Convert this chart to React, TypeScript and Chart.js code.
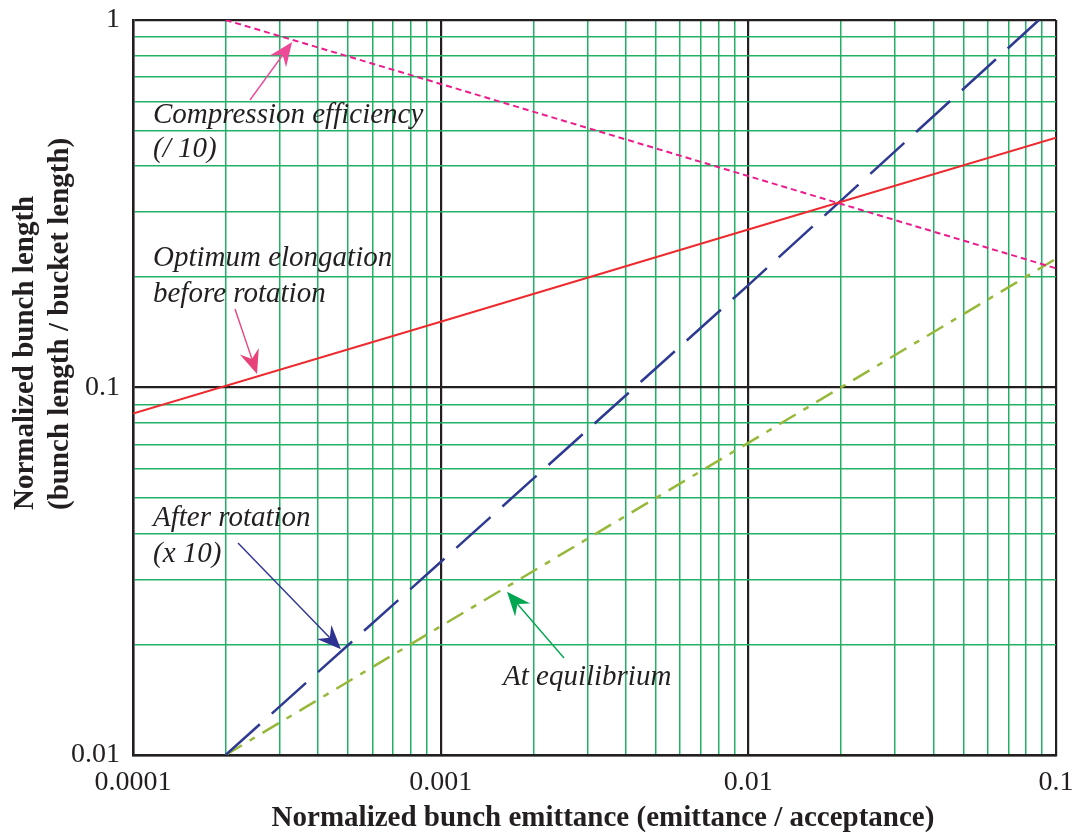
import { useEffect, useRef } from 'react';
import { Chart, registerables } from 'chart.js';

Chart.register(...registerables);

// ---- axis structure ----
const X_DECADES = [0.0001, 0.001, 0.01, 0.1];
const X_TICK_LABELS = ['0.0001', '0.001', '0.01', '0.1'];
const Y_DECADES = [0.01, 0.1, 1];
const Y_TICK_LABELS = ['0.01', '0.1', '1'];
const GRID_STEPS = [1, 2, 3, 4, 5, 6, 7, 8, 9];

const X_TITLE = 'Normalized bunch emittance (emittance / acceptance)';
const Y_TITLE = ['Normalized bunch length', '(bunch length / bucket length)'];

// ---- series ----
const ELONGATION_X = [0.0001, 0.001, 0.01, 0.1];
const ELONGATION_Y = [0.085, 0.151, 0.269, 0.478];

const COMPRESSION_X = [0.0002, 0.001, 0.01, 0.1];
const COMPRESSION_Y = [1.0, 0.67, 0.376, 0.211];

const ROTATION_X = [0.0002, 0.001, 0.01, 0.088];
const ROTATION_Y = [0.01, 0.0335, 0.19, 1.0];

const EQUILIBRIUM_X = [0.0002, 0.001, 0.01, 0.1];
const EQUILIBRIUM_Y = [0.01, 0.0224, 0.0707, 0.224];

// ---- annotations ----
const NOTE_TEXTS = [
  ['Compression efficiency', '(/ 10)'],
  ['Optimum elongation', 'before rotation'],
  ['After rotation', '(x 10)'],
  ['At equilibrium'],
];
// arrow tips in data units (they point at the curves)
const ARROW_TIP_X = [0.000329, 0.000253, 0.000474, 0.001643];
const ARROW_TIP_Y = [0.871, 0.1088, 0.0194, 0.0278];

const SERIF = '"Liberation Serif", "Times New Roman", serif';
const INK = '#231f20';
const GRID_GREEN = '#22b164';
const MAJOR = '#231f20';

const NOTE_LAYOUT = [
  { x: 153, y: [123, 157], tail: [250, 100], color: '#ec4a97' },
  { x: 153, y: [266, 302], tail: [235, 309], color: '#e8427a' },
  { x: 153, y: [526, 562], tail: [238, 543], color: '#2e3192' },
  { x: 503, y: [685], tail: [564, 658], color: '#00a651' },
];

function gridValues(decades: number[]) {
  const out: number[] = [];
  for (let i = 0; i < decades.length - 1; i++) {
    for (const s of GRID_STEPS) out.push(Number((decades[i] * s).toPrecision(6)));
  }
  out.push(decades[decades.length - 1]);
  return out;
}
function decadeIndex(decades: number[], v: number) {
  return decades.findIndex((d) => Math.abs(v - d) <= d * 1e-6);
}
function pts(xs: number[], ys: number[]) {
  return xs.map((x, i) => ({ x, y: ys[i] }));
}

function drawArrow(ctx: CanvasRenderingContext2D, x0: number, y0: number, x1: number, y1: number, color: string) {
  const dx = x1 - x0;
  const dy = y1 - y0;
  const len = Math.hypot(dx, dy);
  const ux = dx / len;
  const uy = dy / len;
  const nx = -uy;
  const ny = ux;
  const L = 24;
  const W = 10;
  const N = 8;
  ctx.save();
  ctx.strokeStyle = color;
  ctx.lineWidth = 1.4;
  ctx.beginPath();
  ctx.moveTo(x0, y0);
  ctx.lineTo(x1 - ux * (L - N), y1 - uy * (L - N));
  ctx.stroke();
  ctx.fillStyle = color;
  ctx.beginPath();
  ctx.moveTo(x1, y1);
  ctx.lineTo(x1 - ux * L + nx * W, y1 - uy * L + ny * W);
  ctx.lineTo(x1 - ux * (L - N), y1 - uy * (L - N));
  ctx.lineTo(x1 - ux * L - nx * W, y1 - uy * L - ny * W);
  ctx.closePath();
  ctx.fill();
  ctx.restore();
}

const decoPlugin = {
  id: 'deco',
  afterDatasetsDraw(chart: any) {
    const ctx: CanvasRenderingContext2D = chart.ctx;
    const xs = chart.scales.x;
    const ys = chart.scales.y;
    ctx.save();
    // annotations
    ctx.font = `italic 29px ${SERIF}`;
    ctx.fillStyle = INK;
    ctx.textAlign = 'left';
    ctx.textBaseline = 'alphabetic';
    NOTE_TEXTS.forEach((lines, i) => {
      const lay = NOTE_LAYOUT[i];
      lines.forEach((t, j) => ctx.fillText(t, lay.x, lay.y[j]));
      const tx = xs.getPixelForValue(ARROW_TIP_X[i]);
      const ty = ys.getPixelForValue(ARROW_TIP_Y[i]);
      drawArrow(ctx, lay.tail[0], lay.tail[1], tx, ty, lay.color);
    });
    // axis titles
    ctx.fillStyle = INK;
    ctx.font = `bold 29px ${SERIF}`;
    ctx.textAlign = 'center';
    ctx.fillText(X_TITLE, 603, 826);
    ctx.textAlign = 'left';
    const bases = [33, 68];
    Y_TITLE.forEach((t, j) => {
      ctx.save();
      ctx.translate(bases[j], 510);
      ctx.rotate(-Math.PI / 2);
      ctx.fillText(t, 0, 0);
      ctx.restore();
    });
    ctx.restore();
  },
};

export default function App() {
  const ref = useRef<HTMLCanvasElement | null>(null);
  useEffect(() => {
    if (!ref.current) return;
    const xGrid = gridValues(X_DECADES);
    const yGrid = gridValues(Y_DECADES);
    const gridColor = (decades: number[]) => (c: any) =>
      c.tick && decadeIndex(decades, c.tick.value) >= 0 ? MAJOR : GRID_GREEN;
    const gridWidth = (decades: number[]) => (c: any) =>
      c.tick && decadeIndex(decades, c.tick.value) >= 0 ? 2.2 : 1.5;
    const chart = new Chart(ref.current, {
      type: 'line',
      data: {
        datasets: [
          {
            label: 'Optimum elongation before rotation',
            data: pts(ELONGATION_X, ELONGATION_Y),
            borderColor: '#ed2b2f',
            borderWidth: 2,
          },
          {
            label: 'Compression efficiency (/ 10)',
            data: pts(COMPRESSION_X, COMPRESSION_Y),
            borderColor: '#ec1c8c',
            borderWidth: 2,
            borderDash: [6, 4],
          },
          {
            label: 'After rotation (x 10)',
            data: pts(ROTATION_X, ROTATION_Y),
            borderColor: '#2e3a92',
            borderWidth: 2.5,
            borderDash: [46, 16],
          },
          {
            label: 'At equilibrium',
            data: pts(EQUILIBRIUM_X, EQUILIBRIUM_Y),
            borderColor: '#97b83a',
            borderWidth: 2.5,
            borderDash: [19, 9, 6, 9],
          },
        ] as any,
      },
      options: {
        animation: false,
        responsive: false,
        elements: { point: { radius: 0 }, line: { tension: 0 } },
        layout: { padding: { top: 20, right: 28, left: 0, bottom: 0 } },
        plugins: { legend: { display: false }, tooltip: { enabled: false } },
        scales: {
          x: {
            type: 'logarithmic',
            min: X_DECADES[0],
            max: X_DECADES[X_DECADES.length - 1],
            afterBuildTicks: (s: any) => {
              s.ticks = xGrid.map((v) => ({ value: v }));
            },
            afterFit: (s: any) => {
              s.height = 79;
              s.paddingLeft = 0;
              s.paddingRight = 0;
            },
            grid: { color: gridColor(X_DECADES), lineWidth: gridWidth(X_DECADES), drawTicks: false },
            border: { display: true, color: MAJOR, width: 2.5 },
            ticks: {
              autoSkip: false,
              maxRotation: 0,
              minRotation: 0,
              padding: 11,
              color: INK,
              font: { family: SERIF, size: 28 },
              callback: (v: any) => {
                const i = decadeIndex(X_DECADES, Number(v));
                return i >= 0 ? X_TICK_LABELS[i] : '';
              },
            },
          },
          y: {
            type: 'logarithmic',
            min: Y_DECADES[0],
            max: Y_DECADES[Y_DECADES.length - 1],
            afterBuildTicks: (s: any) => {
              s.ticks = yGrid.map((v) => ({ value: v }));
            },
            afterFit: (s: any) => {
              s.width = 133;
              s.paddingTop = 0;
              s.paddingBottom = 0;
            },
            grid: { color: gridColor(Y_DECADES), lineWidth: gridWidth(Y_DECADES), drawTicks: false },
            border: { display: true, color: MAJOR, width: 2.5 },
            ticks: {
              autoSkip: false,
              padding: 13,
              color: INK,
              font: { family: SERIF, size: 28 },
              callback: (v: any) => {
                const i = decadeIndex(Y_DECADES, Number(v));
                return i >= 0 ? Y_TICK_LABELS[i] : '';
              },
            },
          },
        },
      } as any,
      plugins: [decoPlugin],
    });
    return () => chart.destroy();
  }, []);
  return (
    <div style={{ position: 'fixed', left: 0, top: 0, width: 1084, height: 834, background: '#fff' }}>
      <canvas ref={ref} width={1084} height={834} style={{ display: 'block' }} />
    </div>
  );
}
